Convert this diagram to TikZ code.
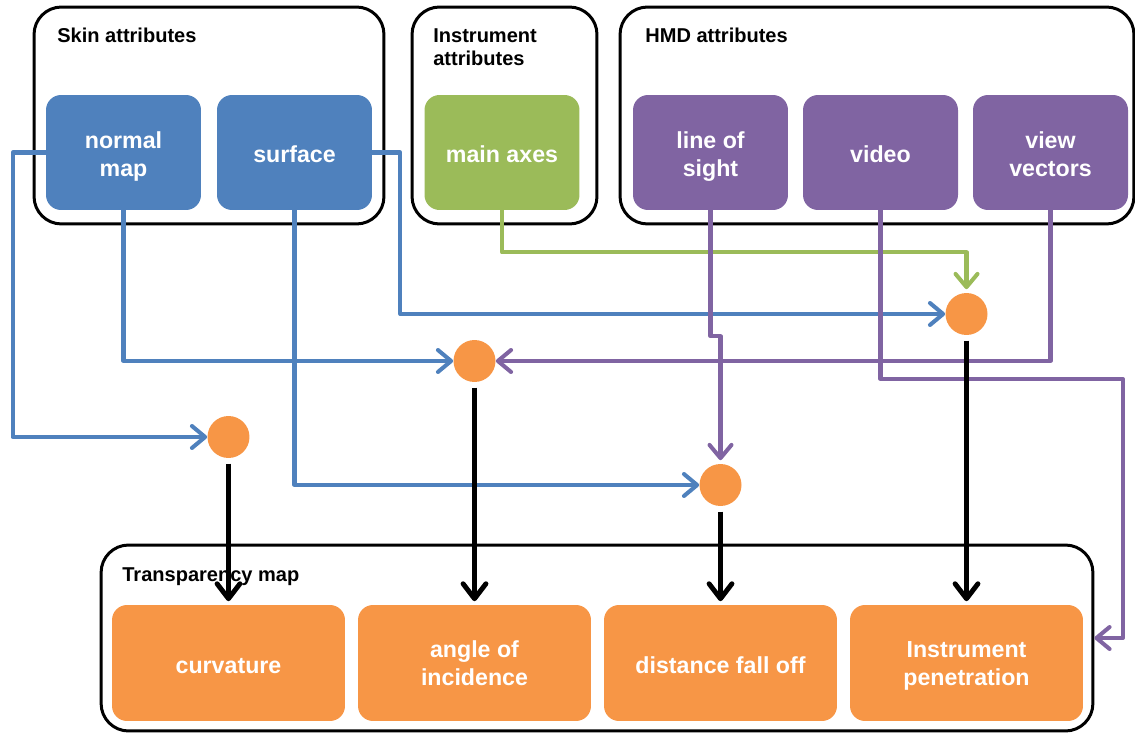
\documentclass[tikz,border=0pt]{standalone}
\usepackage{fontspec}
\setmainfont{Liberation Sans}
\usetikzlibrary{arrows.meta}
\definecolor{cblue}{HTML}{4F81BD}
\definecolor{cgreen}{HTML}{9BBB59}
\definecolor{cpurple}{HTML}{8064A2}
\definecolor{corange}{HTML}{F79646}
\begin{document}
\begin{tikzpicture}[x=0.02cm,y=-0.02cm,
  group/.style={draw=black, line width=1.7pt, rounded corners=0.55cm, inner sep=0pt},
  grouptitle/.style={anchor=base west, inner sep=0pt, font=\bfseries\fontsize{11.4}{13.6}\selectfont, align=left},
  attr/.style={rounded corners=0.3cm, minimum width=3.1cm, minimum height=2.3cm, inner sep=0pt,
    text=white, align=center, font=\bfseries\fontsize{13.2}{15.9}\selectfont},
  oneline/.style={text height=14.4pt, text depth=2.8pt},
  twoline/.style={text height=30pt, text depth=2.8pt},
  twolineb/.style={text height=28pt, text depth=2.8pt},
  outbox/.style={attr, fill=corange, minimum width=4.66cm, minimum height=2.32cm},
  dot/.style={circle, fill=corange, minimum size=0.84cm, inner sep=0pt},
  conn/.style={line width=2.3pt, line join=round, -{Straight Barb[length=7.5pt,width=12.5pt,round]}},
  bconn/.style={conn, draw=cblue},
  gconn/.style={conn, draw=cgreen},
  pconn/.style={conn, draw=cpurple},
  kconn/.style={line width=2.8pt, draw=black, -{Straight Barb[length=8.5pt,width=13pt,round]}, shorten <=3pt, shorten >=2pt}
]
\useasboundingbox (0,0) rectangle (1135,733);

% group frames
\node[group, minimum width=7cm, minimum height=4.34cm] (skin) at (209,115.5) {};
\node[group, minimum width=3.7cm, minimum height=4.34cm] (instr) at (504.5,115.5) {};
\node[group, minimum width=10.28cm, minimum height=4.34cm] (hmd) at (877,115.5) {};
\node[group, minimum width=19.84cm, minimum height=3.72cm] (tm) at (597,638) {};

% titles
\node[grouptitle] (tskin) at (57,43) {Skin attributes};
\node[grouptitle] (tinstr) at (433,66) {Instrument\\attributes};
\node[grouptitle] (thmd) at (645,43) {HMD attributes};
\node[grouptitle] (ttm) at (122,581) {Transparency map};

% attribute boxes
\node[attr, twoline, fill=cblue] (nm) at (123.5,152.5) {normal\\map};
\node[attr, oneline, fill=cblue] (sf) at (294.5,152.5) {surface};
\node[attr, oneline, fill=cgreen] (ma) at (502,152.5) {main axes};
\node[attr, twoline, fill=cpurple] (los) at (710.5,152.5) {line of\\sight};
\node[attr, oneline, fill=cpurple] (vid) at (880.5,152.5) {video};
\node[attr, twoline, fill=cpurple] (vv) at (1050.5,152.5) {view\\vectors};

% output boxes
\node[outbox, oneline] (cv) at (228.5,663) {curvature};
\node[outbox, twolineb] (ai) at (474.5,663) {angle of\\incidence};
\node[outbox, oneline] (df) at (720.5,663) {distance fall off};
\node[outbox, twolineb] (ip) at (966.5,663) {Instrument\\penetration};

% combination dots
\node[dot] (c1) at (228.5,437) {};
\node[dot] (c2) at (474.5,361) {};
\node[dot] (c3) at (720.5,485) {};
\node[dot] (c4) at (966.5,314) {};

% blue connectors
\draw[bconn] (nm.west) -- ++(-33,0) |- (c1);
\draw[bconn] (nm.south) |- (c2);
\draw[bconn] (sf.south) |- (c3);
\draw[bconn] (sf.east) -- ++(28,0) |- (c4);

% green connector
\draw[gconn, shorten >=2pt] (ma.south) -- ++(0,42) -| (c4);

% purple connectors
\draw[pconn, shorten >=2pt] (los.south) -- ++(0,126) -| (c3);
\draw[pconn] (vv.south) |- (c2);
\coordinate (vr) at (1123,379);
\draw[pconn] (vid.south) |- (vr) |- (tm.east);

% black connectors
\draw[kconn] (c1.south) -- (cv.north);
\draw[kconn] (c2.south) -- (ai.north);
\draw[kconn] (c3.south) -- (df.north);
\draw[kconn] (c4.south) -- (ip.north);
\end{tikzpicture}
\end{document}
